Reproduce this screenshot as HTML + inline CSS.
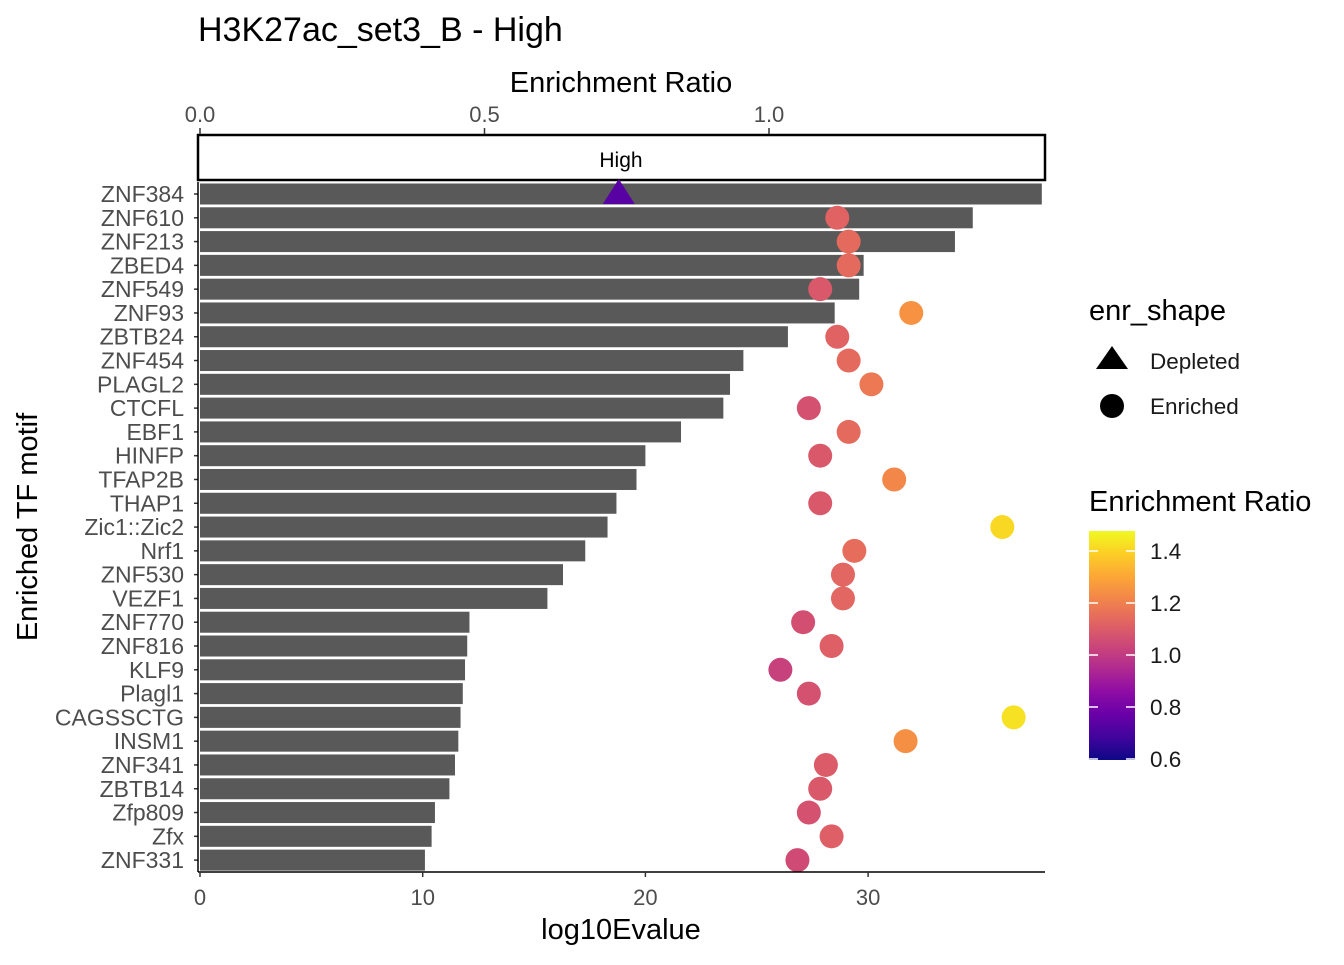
<!DOCTYPE html>
<html><head><meta charset="utf-8"><style>
body{margin:0;background:#fff;font-family:"Liberation Sans",Arial,sans-serif}
svg text{font-family:"Liberation Sans",Arial,sans-serif}
</style></head><body>
<svg id="chart" width="1344" height="960" xmlns="http://www.w3.org/2000/svg">
<defs><linearGradient id="plasma" x1="0" y1="1" x2="0" y2="0">
<stop offset="0" stop-color="#0d0887"/><stop offset="0.1" stop-color="#41049d"/><stop offset="0.2" stop-color="#6a00a8"/><stop offset="0.3" stop-color="#8f0da4"/><stop offset="0.4" stop-color="#b12a90"/><stop offset="0.5" stop-color="#cc4778"/><stop offset="0.6" stop-color="#e16462"/><stop offset="0.7" stop-color="#f2844b"/><stop offset="0.8" stop-color="#fca636"/><stop offset="0.9" stop-color="#fcce25"/><stop offset="1" stop-color="#f0f921"/>
</linearGradient></defs>
<text x="198" y="41" font-size="34">H3K27ac_set3_B - High</text>
<text x="621" y="92" font-size="29" text-anchor="middle">Enrichment Ratio</text>
<rect x="198" y="135" width="847" height="45" fill="#fff" stroke="#000" stroke-width="2.5"/>
<text x="621" y="167" font-size="21" text-anchor="middle">High</text>
<g id="plot"></g>
<text x="621" y="939" font-size="29" text-anchor="middle">log10Evalue</text>
<text transform="translate(37,527) rotate(-90)" font-size="29" text-anchor="middle">Enriched TF motif</text>
<g>
<text x="1089" y="320" font-size="29">enr_shape</text>
<polygon points="1112,346 1096,369 1128,369" fill="#000"/>
<text x="1150" y="369" font-size="22.5" fill="#1a1a1a">Depleted</text>
<circle cx="1112" cy="406" r="12" fill="#000"/>
<text x="1150" y="414" font-size="22.5" fill="#1a1a1a">Enriched</text>
</g>
<g>
<text x="1089" y="511" font-size="29">Enrichment Ratio</text>
<rect x="1089" y="531" width="46" height="229" fill="url(#plasma)"/>
<g id="cbticks"></g>
</g>
</svg>
<script>
const motifs=["ZNF384","ZNF610","ZNF213","ZBED4","ZNF549","ZNF93","ZBTB24","ZNF454","PLAGL2","CTCFL","EBF1","HINFP","TFAP2B","THAP1","Zic1::Zic2","Nrf1","ZNF530","VEZF1","ZNF770","ZNF816","KLF9","Plagl1","CAGSSCTG","INSM1","ZNF341","ZBTB14","Zfp809","Zfx","ZNF331"];
const evalues=[37.8,34.7,33.9,29.8,29.6,28.5,26.4,24.4,23.8,23.5,21.6,20.0,19.6,18.7,18.3,17.3,16.3,15.6,12.1,12.0,11.9,11.8,11.7,11.6,11.45,11.2,10.55,10.4,10.1];
const ratios=[0.736,1.12,1.14,1.14,1.09,1.25,1.12,1.14,1.18,1.07,1.14,1.09,1.22,1.09,1.41,1.15,1.13,1.13,1.06,1.11,1.02,1.07,1.43,1.24,1.10,1.09,1.07,1.11,1.05];
const shapes=["Depleted","Enriched","Enriched","Enriched","Enriched","Enriched","Enriched","Enriched","Enriched","Enriched","Enriched","Enriched","Enriched","Enriched","Enriched","Enriched","Enriched","Enriched","Enriched","Enriched","Enriched","Enriched","Enriched","Enriched","Enriched","Enriched","Enriched","Enriched","Enriched"];
const bottomTicks=[0,10,20,30];
const topTicks=[0.0,0.5,1.0];
const cbTicks=[0.6,0.8,1.0,1.2,1.4];
const cbMin=0.596,cbMax=1.477;
const NS="http://www.w3.org/2000/svg";
const xB=v=>200+v*22.27;
const xT=v=>200+v*569;
const yR=i=>194+i*23.79;
const cbY=v=>759-(v-0.6)*260;
const stops=["#0d0887","#41049d","#6a00a8","#8f0da4","#b12a90","#cc4778","#e16462","#f2844b","#fca636","#fcce25","#f0f921"];
function hex(h){return [1,3,5].map(i=>parseInt(h.substr(i,2),16));}
function col(v){let t=Math.max(0,Math.min(1,(v-cbMin)/(cbMax-cbMin)))*10;let i=Math.min(9,Math.floor(t)),f=t-i;const a=hex(stops[i]),b=hex(stops[i+1]);return "rgb("+a.map((c,k)=>Math.round(c+(b[k]-c)*f)).join(",")+")";}
function mk(tag,attrs,parent,text){const e=document.createElementNS(NS,tag);for(const k in attrs)e.setAttribute(k,attrs[k]);if(text!==undefined)e.textContent=text;parent.appendChild(e);return e;}
const g=document.getElementById("plot");
motifs.forEach((m,i)=>{
 const r=mk("rect",{x:xB(0),y:yR(i)-10.5,width:xB(evalues[i])-xB(0),height:21,fill:"#595959"},g);
 
 
 const t=mk("text",{x:184,y:yR(i)+8,"font-size":23,fill:"#4d4d4d","text-anchor":"end"},g,m);
 
 
 const tk=mk("line",{x1:194,x2:198,y1:yR(i),y2:yR(i),stroke:"#333","stroke-width":1.5},g);
 
 
});
motifs.forEach((m,i)=>{
 const x=xT(ratios[i]),y=yR(i);let p;
 if(shapes[i]==="Depleted"){p=mk("polygon",{points:`${x},${y-15} ${x-16},${y+10} ${x+16},${y+10}`,fill:col(ratios[i])},g);}
 else{p=mk("circle",{cx:x,cy:y,r:12,fill:col(ratios[i])},g);}
 
 
});
const ax=mk("line",{x1:198,x2:198,y1:182,y2:872,stroke:"#000","stroke-width":1.5},g);


const bx=mk("line",{x1:198,x2:1045,y1:872,y2:872,stroke:"#000","stroke-width":1.5},g);


bottomTicks.forEach(v=>{
 const l=mk("line",{x1:xB(v),x2:xB(v),y1:872,y2:877,stroke:"#333","stroke-width":1.5},g);
 
 
 const t=mk("text",{x:xB(v),y:905,"font-size":22,fill:"#4d4d4d","text-anchor":"middle"},g,String(v));
 
 
});
topTicks.forEach(v=>{
 const l=mk("line",{x1:xT(v),x2:xT(v),y1:128,y2:134,stroke:"#333","stroke-width":1.5},g);
 
 
 const t=mk("text",{x:xT(v),y:122,"font-size":22,fill:"#4d4d4d","text-anchor":"middle"},g,v.toFixed(1));
 
 
});
const cg=document.getElementById("cbticks");
cbTicks.forEach(v=>{
 const y=cbY(v);
 const l1=mk("line",{x1:1089,x2:1098,y1:y,y2:y,stroke:"#fff","stroke-width":1.5},cg);
 
 
 const l2=mk("line",{x1:1126,x2:1135,y1:y,y2:y,stroke:"#fff","stroke-width":1.5},cg);
 
 
 const t=mk("text",{x:1150,y:y+8,"font-size":22.5,fill:"#1a1a1a"},cg,v.toFixed(1));
 
 
});
</script>
</body></html>
